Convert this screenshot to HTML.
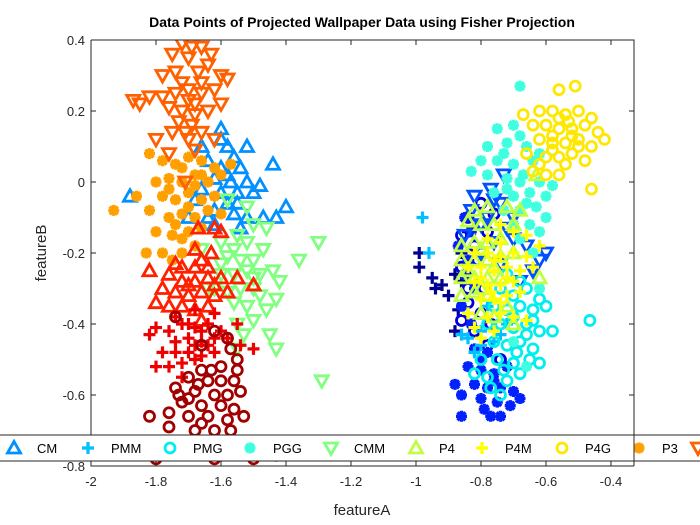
<!DOCTYPE html>
<html><head><meta charset="utf-8">
<style>
body{margin:0;background:#fff;}
svg{display:block;font-family:"Liberation Sans",Arial,sans-serif;}
</style></head>
<body>
<svg id="chart" width="700" height="525" viewBox="0 0 700 525">
<rect x="0" y="0" width="700" height="525" fill="#fff"/>
<text x="362" y="27" text-anchor="middle" font-size="14" font-weight="bold" fill="#000">Data Points of Projected Wallpaper Data using Fisher Projection</text>
<defs><clipPath id="plotclip"><rect x="91" y="40" width="543" height="426"/></clipPath></defs>
<g id="marks" clip-path="url(#plotclip)"></g>
<g id="legend"></g>
<g id="axes"></g>
<text x="362" y="515" text-anchor="middle" font-size="15" fill="#262626">featureA</text>
<text x="46" y="253" text-anchor="middle" font-size="15" fill="#262626" transform="rotate(-90 46 253)">featureB</text>
</svg>
<script>
const classNames=["P1","P2","PM","PG","CM","PMM","PMG","PGG","CMM","P4","P4M","P4G","P3","P3M1","P31M","P6","P6M"];
const classColors=["#000090","#0000DD","#0020FF","#0050FF","#0090FF","#00C0FF","#00EEEE","#40FFE0","#80FF80","#C0FF40","#FFFF00","#FFE800","#FFA000","#FF6000","#FF2000","#EE0000","#A00000"];
const classMarkers=["+","o","*","v","^","+","o","*","v","^","+","o","*","v","^","+","o"];
const xTicks=[-2,-1.8,-1.6,-1.4,-1.2,-1,-0.8,-0.6,-0.4];
const yTicks=[0.4,0.2,0,-0.2,-0.4,-0.6,-0.8];
const xTickLabels=["-2","-1.8","-1.6","-1.4","-1.2","-1","-0.8","-0.6","-0.4"];
const yTickLabels=["0.4","0.2","0","-0.2","-0.4","-0.6","-0.8"];
const dP1=[[-0.99,-0.2],[-0.99,-0.24],[-0.95,-0.27],[-0.92,-0.29],[-0.9,-0.32],[-0.94,-0.3],[-0.88,-0.26],[-0.86,-0.2],[-0.88,-0.42],[-0.84,-0.14],[-0.86,-0.28],[-0.87,-0.36]];
const dP2=[[-0.8,-0.06],[-0.84,-0.1],[-0.86,-0.15],[-0.82,-0.18],[-0.78,-0.14],[-0.86,-0.24],[-0.83,-0.27],[-0.79,-0.3],[-0.84,-0.34],[-0.8,-0.37],[-0.77,-0.4],[-0.82,-0.42],[-0.78,-0.46],[-0.74,-0.5],[-0.8,-0.12],[-0.84,-0.3],[-0.86,-0.39],[-0.81,-0.22],[-0.76,-0.09]];
const dPM=[[-0.85,-0.1],[-0.87,-0.18],[-0.84,-0.22],[-0.82,-0.3],[-0.86,-0.35],[-0.82,-0.47],[-0.78,-0.48],[-0.84,-0.52],[-0.8,-0.53],[-0.76,-0.54],[-0.72,-0.52],[-0.82,-0.57],[-0.78,-0.58],[-0.74,-0.58],[-0.7,-0.59],[-0.86,-0.6],[-0.8,-0.61],[-0.75,-0.62],[-0.68,-0.61],[-0.79,-0.64],[-0.77,-0.66],[-0.71,-0.63],[-0.86,-0.66],[-0.74,-0.66],[-0.88,-0.57],[-0.85,-0.26],[-0.83,-0.14],[-0.8,-0.5],[-0.76,-0.56],[-0.83,-0.4]];
const dPG=[[-0.83,-0.08],[-0.85,-0.15],[-0.8,-0.12],[-0.76,-0.05],[-0.78,-0.1],[-0.72,-0.13],[-0.76,-0.17],[-0.7,-0.16],[-0.66,-0.18],[-0.62,-0.22],[-0.6,-0.2],[-0.64,-0.25],[-0.8,-0.2],[-0.74,-0.23],[-0.68,-0.28],[-0.77,-0.02],[-0.7,-0.1],[-0.73,0.02],[-0.82,-0.04],[-0.74,-0.06]];
const dCM=[[-1.6,0.15],[-1.6,0.12],[-1.58,0.1],[-1.52,0.1],[-1.56,0.07],[-1.54,0.04],[-1.44,0.05],[-1.6,0.04],[-1.62,0.01],[-1.57,0.0],[-1.52,0.0],[-1.48,-0.01],[-1.6,-0.03],[-1.55,-0.03],[-1.5,-0.03],[-1.58,-0.06],[-1.62,-0.08],[-1.56,-0.09],[-1.52,-0.1],[-1.47,-0.1],[-1.43,-0.1],[-1.4,-0.07],[-1.54,-0.13],[-1.68,-0.05],[-1.88,-0.04],[-1.66,0.1],[-1.64,-0.1],[-1.7,-0.1],[-1.64,0.06],[-1.58,0.02],[-1.55,-0.06],[-1.66,-0.02],[-1.62,-0.12]];
const dPMM=[[-0.98,-0.1],[-0.96,-0.2],[-0.86,-0.43],[-0.84,-0.44],[-0.82,-0.48],[-0.8,-0.42],[-0.76,-0.45],[-0.72,-0.4],[-0.78,-0.35],[-0.84,-0.37],[-0.8,-0.46],[-0.74,-0.43]];
const dPMG=[[-0.72,-0.26],[-0.68,-0.28],[-0.74,-0.3],[-0.7,-0.32],[-0.66,-0.3],[-0.62,-0.33],[-0.76,-0.35],[-0.72,-0.36],[-0.68,-0.35],[-0.64,-0.36],[-0.6,-0.35],[-0.78,-0.4],[-0.74,-0.4],[-0.7,-0.41],[-0.66,-0.4],[-0.62,-0.42],[-0.58,-0.42],[-0.76,-0.45],[-0.72,-0.46],[-0.68,-0.45],[-0.64,-0.47],[-0.8,-0.5],[-0.75,-0.5],[-0.7,-0.51],[-0.65,-0.5],[-0.62,-0.51],[-0.78,-0.55],[-0.72,-0.56],[-0.68,-0.54],[-0.74,-0.6],[-0.465,-0.39],[-0.82,-0.54],[-0.7,-0.38],[-0.66,-0.43],[-0.73,-0.53],[-0.77,-0.58],[-0.69,-0.48],[-0.64,-0.39]];
const dPGG=[[-0.68,0.27],[-0.75,0.15],[-0.7,0.16],[-0.78,0.1],[-0.72,0.11],[-0.66,0.1],[-0.8,0.06],[-0.75,0.06],[-0.7,0.05],[-0.64,0.06],[-0.78,0.02],[-0.72,0.01],[-0.67,0.02],[-0.62,0.0],[-0.76,-0.03],[-0.7,-0.04],[-0.65,-0.03],[-0.6,-0.04],[-0.73,-0.08],[-0.68,-0.08],[-0.63,-0.07],[-0.7,-0.12],[-0.65,-0.12],[-0.6,-0.1],[-0.68,-0.16],[-0.64,-0.2],[-0.62,-0.3],[-0.7,-0.45],[-0.66,-0.52],[-0.83,0.03],[-0.73,0.08],[-0.68,0.13],[-0.62,0.08],[-0.66,-0.06],[-0.72,-0.02],[-0.58,-0.01],[-0.68,0.0],[-0.62,-0.14]];
const dCMM=[[-1.58,-0.05],[-1.52,-0.07],[-1.5,-0.12],[-1.46,-0.13],[-1.55,-0.15],[-1.6,-0.17],[-1.52,-0.17],[-1.47,-0.19],[-1.58,-0.21],[-1.54,-0.22],[-1.5,-0.22],[-1.6,-0.26],[-1.56,-0.26],[-1.52,-0.25],[-1.48,-0.26],[-1.44,-0.25],[-1.3,-0.17],[-1.62,-0.3],[-1.58,-0.31],[-1.54,-0.3],[-1.5,-0.3],[-1.42,-0.28],[-1.56,-0.34],[-1.52,-0.35],[-1.48,-0.32],[-1.43,-0.33],[-1.55,-0.4],[-1.5,-0.39],[-1.45,-0.43],[-1.55,-0.47],[-1.43,-0.47],[-1.29,-0.56],[-1.66,-0.19],[-1.64,-0.3],[-1.36,-0.22],[-1.56,-0.19],[-1.5,-0.27],[-1.46,-0.36],[-1.53,-0.43],[-1.6,-0.23]];
const dP4=[[-0.82,-0.08],[-0.78,-0.07],[-0.72,-0.07],[-0.68,-0.08],[-0.84,-0.11],[-0.8,-0.12],[-0.76,-0.12],[-0.7,-0.12],[-0.86,-0.18],[-0.82,-0.17],[-0.78,-0.17],[-0.74,-0.16],[-0.86,-0.22],[-0.82,-0.22],[-0.78,-0.22],[-0.74,-0.21],[-0.7,-0.2],[-0.86,-0.27],[-0.82,-0.27],[-0.78,-0.27],[-0.74,-0.27],[-0.86,-0.32],[-0.82,-0.31],[-0.78,-0.32],[-0.8,-0.37],[-0.76,-0.38],[-0.72,-0.35],[-0.7,-0.4],[-0.63,0.02],[-0.62,-0.27],[-0.8,-0.19],[-0.76,-0.24],[-0.84,-0.25],[-0.8,-0.3]];
const dP4M=[[-0.74,-0.12],[-0.7,-0.14],[-0.78,-0.16],[-0.74,-0.17],[-0.82,-0.2],[-0.78,-0.2],[-0.74,-0.21],[-0.7,-0.2],[-0.66,-0.21],[-0.84,-0.24],[-0.8,-0.24],[-0.76,-0.25],[-0.72,-0.24],[-0.68,-0.25],[-0.64,-0.24],[-0.82,-0.28],[-0.78,-0.29],[-0.74,-0.29],[-0.7,-0.28],[-0.8,-0.33],[-0.76,-0.33],[-0.72,-0.32],[-0.68,-0.31],[-0.78,-0.38],[-0.74,-0.37],[-0.7,-0.38],[-0.82,-0.41],[-0.76,-0.42],[-0.66,-0.39],[-0.62,-0.18],[-0.66,-0.15],[-0.8,-0.44],[-0.84,-0.37],[-0.76,-0.22],[-0.8,-0.27],[-0.72,-0.27],[-0.77,-0.31],[-0.74,-0.34]];
const dP4G=[[-0.56,0.26],[-0.51,0.27],[-0.67,0.19],[-0.62,0.2],[-0.58,0.2],[-0.54,0.19],[-0.5,0.2],[-0.46,0.18],[-0.64,0.16],[-0.6,0.16],[-0.56,0.15],[-0.52,0.15],[-0.48,0.16],[-0.44,0.14],[-0.42,0.12],[-0.62,0.12],[-0.58,0.11],[-0.54,0.11],[-0.5,0.12],[-0.46,0.1],[-0.66,0.08],[-0.6,0.07],[-0.56,0.07],[-0.52,0.08],[-0.48,0.06],[-0.64,0.03],[-0.6,0.02],[-0.56,0.02],[-0.46,-0.02],[-0.58,0.13],[-0.53,0.17],[-0.56,0.18],[-0.52,0.13],[-0.58,0.09],[-0.54,0.05],[-0.5,0.1],[-0.62,0.05]];
const dP3=[[-1.82,0.08],[-1.78,0.06],[-1.74,0.05],[-1.7,0.07],[-1.66,0.06],[-1.62,0.04],[-1.8,0.0],[-1.76,0.01],[-1.72,0.0],[-1.68,0.02],[-1.64,0.0],[-1.6,0.02],[-1.78,-0.04],[-1.74,-0.05],[-1.7,-0.03],[-1.66,-0.05],[-1.62,-0.04],[-1.82,-0.08],[-1.76,-0.1],[-1.72,-0.09],[-1.68,-0.1],[-1.64,-0.08],[-1.8,-0.14],[-1.75,-0.15],[-1.7,-0.14],[-1.66,-0.13],[-1.83,-0.2],[-1.78,-0.2],[-1.72,-0.2],[-1.68,-0.18],[-1.93,-0.08],[-1.86,-0.04],[-1.6,-0.09],[-1.75,-0.22],[-1.57,0.05],[-1.72,0.04],[-1.7,-0.07],[-1.74,-0.12],[-1.68,-0.01],[-1.76,-0.02],[-1.72,-0.16],[-1.66,0.02]];
const dP3M1=[[-1.72,0.39],[-1.69,0.38],[-1.66,0.38],[-1.75,0.36],[-1.7,0.35],[-1.63,0.36],[-1.78,0.3],[-1.74,0.31],[-1.67,0.31],[-1.6,0.3],[-1.82,0.24],[-1.78,0.24],[-1.74,0.25],[-1.7,0.26],[-1.66,0.25],[-1.62,0.26],[-1.85,0.22],[-1.76,0.21],[-1.72,0.2],[-1.68,0.22],[-1.64,0.2],[-1.6,0.22],[-1.73,0.17],[-1.69,0.16],[-1.75,0.14],[-1.66,0.14],[-1.8,0.12],[-1.7,0.12],[-1.62,0.12],[-1.76,0.08],[-1.68,0.09],[-1.87,0.23],[-1.71,0.0],[-1.58,0.29],[-1.64,0.33],[-1.7,0.23],[-1.72,0.28],[-1.68,0.19],[-1.66,0.28],[-1.71,0.14]];
const dP31M=[[-1.67,-0.13],[-1.62,-0.13],[-1.6,-0.14],[-1.68,-0.19],[-1.63,-0.2],[-1.72,-0.24],[-1.68,-0.24],[-1.64,-0.24],[-1.82,-0.25],[-1.76,-0.26],[-1.72,-0.28],[-1.68,-0.28],[-1.64,-0.27],[-1.6,-0.27],[-1.55,-0.27],[-1.78,-0.3],[-1.74,-0.31],[-1.7,-0.32],[-1.66,-0.31],[-1.62,-0.32],[-1.58,-0.31],[-1.8,-0.34],[-1.76,-0.35],[-1.72,-0.35],[-1.68,-0.36],[-1.64,-0.35],[-1.5,-0.29],[-1.74,-0.23],[-1.66,-0.39],[-1.66,-0.22],[-1.7,-0.29],[-1.62,-0.29]];
const dP6=[[-1.8,-0.41],[-1.82,-0.43],[-1.76,-0.42],[-1.72,-0.4],[-1.68,-0.41],[-1.64,-0.4],[-1.6,-0.42],[-1.74,-0.45],[-1.7,-0.44],[-1.66,-0.45],[-1.62,-0.44],[-1.78,-0.48],[-1.74,-0.48],[-1.7,-0.48],[-1.66,-0.49],[-1.62,-0.48],[-1.8,-0.52],[-1.76,-0.52],[-1.72,-0.51],[-1.68,-0.5],[-1.54,-0.46],[-1.5,-0.47],[-1.55,-0.4],[-1.74,-0.38],[-1.68,-0.36],[-1.62,-0.37],[-1.58,-0.44],[-1.72,-0.55],[-1.7,-0.4],[-1.66,-0.42],[-1.64,-0.46],[-1.68,-0.46]];
const dP6M=[[-1.74,-0.38],[-1.62,-0.42],[-1.58,-0.44],[-1.57,-0.47],[-1.66,-0.46],[-1.55,-0.5],[-1.6,-0.52],[-1.66,-0.53],[-1.7,-0.55],[-1.64,-0.56],[-1.6,-0.56],[-1.56,-0.56],[-1.74,-0.58],[-1.68,-0.59],[-1.62,-0.6],[-1.58,-0.6],[-1.54,-0.59],[-1.72,-0.62],[-1.66,-0.63],[-1.6,-0.63],[-1.56,-0.64],[-1.76,-0.65],[-1.7,-0.66],[-1.64,-0.66],[-1.58,-0.67],[-1.68,-0.7],[-1.62,-0.7],[-1.57,-0.7],[-1.82,-0.66],[-1.76,-0.69],[-1.65,-0.74],[-1.6,-0.74],[-1.5,-0.74],[-1.62,-0.78],[-1.5,-0.78],[-1.43,-0.77],[-1.8,-0.78],[-1.73,-0.6],[-1.67,-0.57],[-1.63,-0.53],[-1.7,-0.61],[-1.55,-0.53],[-1.53,-0.66],[-1.66,-0.68],[-1.6,-0.77],[-1.56,-0.74]];
const classData=[dP1,dP2,dPM,dPG,dCM,dPMM,dPMG,dPGG,dCMM,dP4,dP4M,dP4G,dP3,dP3M1,dP31M,dP6,dP6M];

const NS="http://www.w3.org/2000/svg";
const PL=91,PR=634,PT=40,PB=466;
const XMIN=-2,XMAX=-0.3292,YMIN=-0.8,YMAX=0.4;
function xs(v){return PL+(v-XMIN)/(XMAX-XMIN)*(PR-PL);}
function ys(v){return PB-(v-YMIN)/(YMAX-YMIN)*(PB-PT);}
function mk(tag){return document.createElementNS(NS,tag);}
function marker(type,cx,cy,color){
  const g=mk('g');
  g.setAttribute('fill','none');g.setAttribute('stroke',color);g.setAttribute('stroke-width','2.8');
  let d='';
  if(type==='^'){d=`M${cx},${cy-6.5} L${cx+6.5},${cy+5} L${cx-6.5},${cy+5} Z`;}
  else if(type==='v'){d=`M${cx},${cy+6.5} L${cx+6.5},${cy-5} L${cx-6.5},${cy-5} Z`;}
  else if(type==='+'){d=`M${cx-6},${cy} H${cx+6} M${cx},${cy-6} V${cy+6}`;g.setAttribute('stroke-width','3.2');}
  else if(type==='*'){d=`M${cx-5.5},${cy} H${cx+5.5} M${cx},${cy-5.5} V${cy+5.5} M${cx-4},${cy-4} L${cx+4},${cy+4} M${cx-4},${cy+4} L${cx+4},${cy-4}`;g.setAttribute('stroke-width','3.4');}
  if(type==='o'){const c=mk('circle');c.setAttribute('cx',cx);c.setAttribute('cy',cy);c.setAttribute('r',5);g.appendChild(c);}
  else{const p=mk('path');p.setAttribute('d',d);p.setAttribute('stroke-linejoin','miter');g.appendChild(p);}
  return g;
}
const marks=document.getElementById('marks');
classData.forEach((arr,ci)=>{
  const grp=mk('g');
  
  
  arr.forEach(pt=>{
    const m=marker(classMarkers[ci],xs(pt[0]),ys(pt[1]),classColors[ci]);
    
    
    grp.appendChild(m);
  });
  marks.appendChild(grp);
});
const legend=document.getElementById('legend');


const lb=mk('rect');lb.setAttribute('x',-5);lb.setAttribute('y',435);lb.setAttribute('width',715);lb.setAttribute('height',26);
lb.setAttribute('fill','#fff');lb.setAttribute('stroke','#262626');lb.setAttribute('stroke-width','1');


legend.appendChild(lb);
const legendIdx=[4,5,6,7,8,9,10,11,12,13];
const legendIconX=[14,88,170,250,331,416,482,562,639,698];
legendIdx.forEach((ci,k)=>{
  const m=marker(classMarkers[ci],legendIconX[k],448,classColors[ci]);
  
  
  legend.appendChild(m);
  const t=mk('text');t.setAttribute('x',legendIconX[k]+23);t.setAttribute('y',453);t.setAttribute('font-size','13');t.setAttribute('fill','#000');
  t.textContent=classNames[ci];
  
  
  legend.appendChild(t);
});
const axes=document.getElementById('axes');
const frame=mk('path');
frame.setAttribute('d',`M${PL},${PT} H${PR} V${PB} M${PL},${PT} V435 M${PL},461 V${PB} H${PR} M${PR},435 V461`);
frame.setAttribute('fill','none');frame.setAttribute('stroke','#262626');frame.setAttribute('stroke-width','1');


axes.appendChild(frame);
xTicks.forEach((v,i)=>{
  const x=xs(v);
  const t=mk('path');t.setAttribute('d',`M${x},${PB} V${PB-5} M${x},${PT} V${PT+5}`);t.setAttribute('stroke','#262626');
  
  
  axes.appendChild(t);
  const l=mk('text');l.setAttribute('x',x);l.setAttribute('y',PB+20);l.setAttribute('text-anchor','middle');l.setAttribute('font-size','13');l.setAttribute('fill','#262626');
  l.textContent=xTickLabels[i];
  
  
  axes.appendChild(l);
});
yTicks.forEach((v,i)=>{
  const y=ys(v);
  const t=mk('path');t.setAttribute('d',`M${PL},${y} H${PL+5} M${PR},${y} H${PR-5}`);t.setAttribute('stroke','#262626');
  
  
  axes.appendChild(t);
  const l=mk('text');l.setAttribute('x',PL-6);l.setAttribute('y',y+5);l.setAttribute('text-anchor','end');l.setAttribute('font-size','13');l.setAttribute('fill','#262626');
  l.textContent=yTickLabels[i];
  
  
  axes.appendChild(l);
});
</script>
</body></html>
